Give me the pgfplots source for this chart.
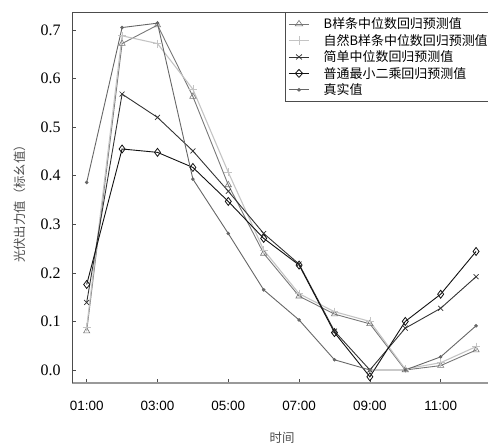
\documentclass[border=0pt]{standalone}
\usepackage{fontspec}
\setmainfont{Liberation Serif}
\newfontfamily\sansfont{Liberation Sans}
\newfontfamily\cjk{Noto Sans CJK SC}
\usepackage{pgfplots}
\pgfplotsset{compat=1.18}
\definecolor{realc}{HTML}{666666}
\definecolor{bspc}{HTML}{777777}
\definecolor{natc}{HTML}{C4C4C4}
\definecolor{medc}{HTML}{333333}
\definecolor{olsc}{HTML}{111111}
\begin{document}
\begin{tikzpicture}
\path[use as bounding box] (-72bp,-61bp) rectangle (416bp,383bp);
\begin{axis}[
  at={(0,0)}, anchor=south west,
  scale only axis, width=420bp, height=371bp,
  xmin=0.585, xmax=12.45, ymin=-0.0268, ymax=0.737,
  axis x line*=bottom, axis y line*=left,
  x axis line style={color=black!40, line width=1.3pt},
  y axis line style={color=black!70, line width=0.8pt},
  tick align=inside, major tick length=4bp,
  tick style={color=black!70, line width=0.6pt},
  xtick={1,3,5,7,9,11},
  xticklabels={01:00,03:00,05:00,07:00,09:00,11:00},
  ytick={0,0.1,0.2,0.3,0.4,0.5,0.6,0.7},
  /pgf/number format/assume math mode=true,
  yticklabel style={/pgf/number format/fixed, /pgf/number format/fixed zerofill, /pgf/number format/precision=1, font=\fontsize{16}{18}\selectfont, xshift=-8bp},
  xticklabel style={font=\sansfont\fontsize{13.5}{15}\selectfont, yshift=-15bp},
  xlabel={\cjk 时间},
  xlabel style={at={(axis description cs:0.5,-0.148)}, anchor=center, font=\fontsize{12.5}{14}\selectfont, text=black!70},
  ylabel={\cjk 光伏出力值（标幺值）},
  ylabel style={at={(axis description cs:-0.124,0.4906)}, anchor=center, font=\fontsize{12.4}{14}\selectfont, text=black!70},
  legend style={at={(axis description cs:0.507,1)}, anchor=north west, draw=black!70, line width=0.6pt, fill=white, font=\cjk\fontsize{13}{14}\selectfont, row sep=3bp, inner ysep=5bp, inner xsep=3bp, nodes={inner ysep=0.5bp, inner xsep=14bp, text width=170bp, align=left}},
  legend cell align=left,
  legend image post style={xscale=1.2},
  clip=false,
]
\addplot[color=bspc, line width=0.9pt, mark=triangle, mark size=3.6bp, mark options={solid, line width=0.6pt}] coordinates {
(1,0.080) (2,0.672) (3,0.710) (4,0.563) (5,0.381) (6,0.240) (7,0.152) (8,0.115) (9,0.095) (10,0.000) (11,0.009) (12,0.041)};
\addlegendentry{B样条中位数回归预测值}
\addplot[color=natc, line width=1.1pt, mark=+, mark size=4bp, mark options={solid, line width=0.7pt}] coordinates {
(1,0.088) (2,0.688) (3,0.672) (4,0.578) (5,0.407) (6,0.247) (7,0.157) (8,0.120) (9,0.100) (10,0.002) (11,0.015) (12,0.048)};
\addlegendentry{自然B样条中位数回归预测值}
\addplot[color=medc, line width=0.9pt, mark=x, mark size=3.5bp, mark options={solid, line width=0.7pt}] coordinates {
(1,0.139) (2,0.568) (3,0.520) (4,0.451) (5,0.368) (6,0.281) (7,0.218) (8,0.080) (9,0.000) (10,0.086) (11,0.127) (12,0.192)};
\addlegendentry{简单中位数回归预测值}
\addplot[color=olsc, line width=0.9pt, mark=diamond, mark size=4bp, mark options={solid, line width=0.8pt}] coordinates {
(1,0.176) (2,0.455) (3,0.448) (4,0.417) (5,0.347) (6,0.271) (7,0.216) (8,0.077) (9,-0.014) (10,0.100) (11,0.156) (12,0.244)};
\addlegendentry{普通最小二乘回归预测值}
\addplot[color=realc, line width=0.9pt, mark=*, mark size=1.3bp, mark options={solid}] coordinates {
(1,0.386) (2,0.705) (3,0.714) (4,0.393) (5,0.281) (6,0.165) (7,0.103) (8,0.021) (9,0.000) (10,0.000) (11,0.027) (12,0.091)};
\addlegendentry{真实值}
\draw[color=black!70, line width=0.8pt] (rel axis cs:0,1) -- (rel axis cs:1,1);
\end{axis}
\end{tikzpicture}
\end{document}
